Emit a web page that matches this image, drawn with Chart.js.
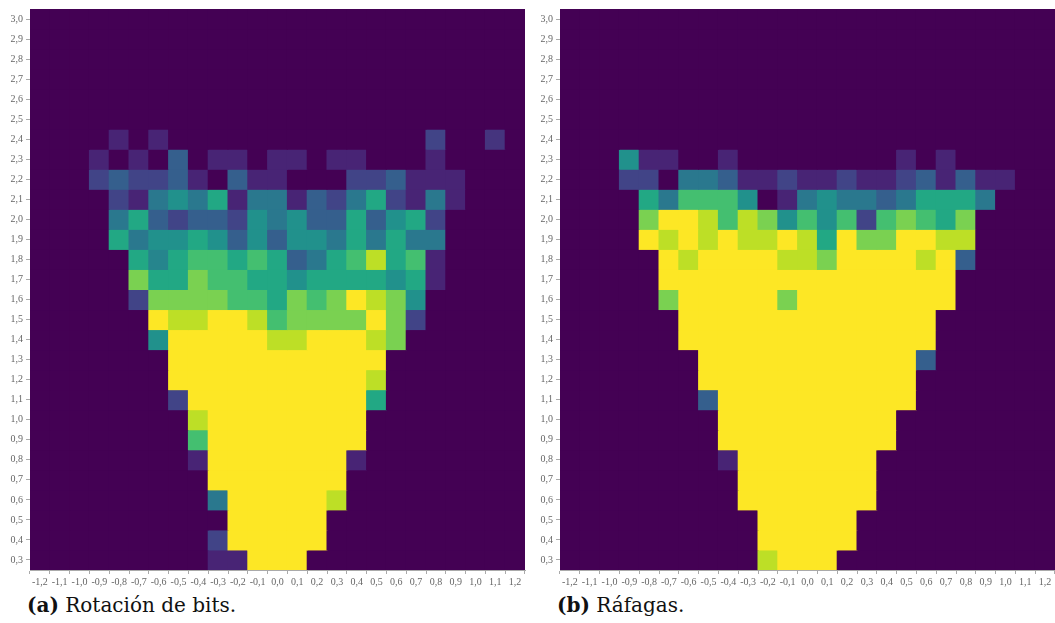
<!DOCTYPE html>
<html>
<head>
<meta charset="utf-8">
<script src="https://cdn.jsdelivr.net/npm/chart.js@4/dist/chart.umd.min.js"></script>
<style>
  html, body { margin: 0; padding: 0; background: #ffffff; }
  body { width: 1055px; height: 623px; position: relative; overflow: hidden; }
  .panel { position: absolute; top: 0; height: 590px; }
  .caption { position: absolute; top: 593px; font-family: "DejaVu Serif", "Liberation Serif", serif; font-size: 20px; color: #111; white-space: nowrap; }
  .caption b { font-weight: bold; }
</style>
</head>
<body>
<div class="panel" style="left:0; width:528px;"><canvas id="chartA"></canvas></div>
<div class="panel" style="left:530px; width:525px;"><canvas id="chartB"></canvas></div>
<div class="caption" style="left:27px;"><b>(a)</b> Rotación de bits.</div>
<div class="caption" style="left:557px;"><b>(b)</b> Ráfagas.</div>
<script>
// Column categories (x) and row centres (y), both in steps of 0.1
const xValues = [-1.2, -1.1, -1.0, -0.9, -0.8, -0.7, -0.6, -0.5, -0.4, -0.3, -0.2, -0.1,
                 0.0, 0.1, 0.2, 0.3, 0.4, 0.5, 0.6, 0.7, 0.8, 0.9, 1.0, 1.1, 1.2];
const yValues = [3.0, 2.9, 2.8, 2.7, 2.6, 2.5, 2.4, 2.3, 2.2, 2.1, 2.0, 1.9, 1.8, 1.7,
                 1.6, 1.5, 1.4, 1.3, 1.2, 1.1, 1.0, 0.9, 0.8, 0.7, 0.6, 0.5, 0.4, 0.3];
const xTickLabels = xValues.map(v => v.toFixed(1).replace('.', ','));
const yTickLabels = yValues.map(v => v.toFixed(1).replace('.', ','));

// Density level per cell (0 = empty … 10 = maximum), one row per yValues entry
const rotacionBits = [
  [0,0,0,0,0,0,0,0,0,0,0,0,0,0,0,0,0,0,0,0,0,0,0,0,0],
  [0,0,0,0,0,0,0,0,0,0,0,0,0,0,0,0,0,0,0,0,0,0,0,0,0],
  [0,0,0,0,0,0,0,0,0,0,0,0,0,0,0,0,0,0,0,0,0,0,0,0,0],
  [0,0,0,0,0,0,0,0,0,0,0,0,0,0,0,0,0,0,0,0,0,0,0,0,0],
  [0,0,0,0,0,0,0,0,0,0,0,0,0,0,0,0,0,0,0,0,0,0,0,0,0],
  [0,0,0,0,0,0,0,0,0,0,0,0,0,0,0,0,0,0,0,0,0,0,0,0,0],
  [0,0,0,0,1,0,1,0,0,0,0,0,0,0,0,0,0,0,0,0,2,0,0,1.5,0],
  [0,0,0,1,0,1,0,3,0,1,1,0,1,1,0,1,1,0,0,0,1,0,0,0,0],
  [0,0,0,2,3,2,2,3,1,0,3,1,1,0,0,0,2,2,3,1,1,1,0,0,0],
  [0,0,0,0,2,1,4,5,4,6,1,4,4,1,3,2,4,6,2,1,4,1,0,0,0],
  [0,0,0,0,4,6,3,2,3,3,2,5,4,5,3,3,6,3,5,6,2,0,0,0,0],
  [0,0,0,0,6,4,5,5,6,5,3,5,3,5,5,4,6,4,6,4,4,0,0,0,0],
  [0,0,0,0,0,6,4.5,6,7,7,6,7,6,3,4,6,7,9,6,7,1,0,0,0,0],
  [0,0,0,0,0,8,6,6,8,7,7,6,6,5,6,6,6,6,5,6,1,0,0,0,0],
  [0,0,0,0,0,2,8,8,8,8,7,7,6,8,7,8,10,9,8,5,0,0,0,0,0],
  [0,0,0,0,0,0,10,9,9,10,10,9,7,8,8,8,8,10,8,2,0,0,0,0,0],
  [0,0,0,0,0,0,5,10,10,10,10,10,9,9,10,10,10,9,8,0,0,0,0,0,0],
  [0,0,0,0,0,0,0,10,10,10,10,10,10,10,10,10,10,10,0,0,0,0,0,0,0],
  [0,0,0,0,0,0,0,10,10,10,10,10,10,10,10,10,10,9,0,0,0,0,0,0,0],
  [0,0,0,0,0,0,0,2,10,10,10,10,10,10,10,10,10,6,0,0,0,0,0,0,0],
  [0,0,0,0,0,0,0,0,9,10,10,10,10,10,10,10,10,0,0,0,0,0,0,0,0],
  [0,0,0,0,0,0,0,0,7,10,10,10,10,10,10,10,10,0,0,0,0,0,0,0,0],
  [0,0,0,0,0,0,0,0,1,10,10,10,10,10,10,10,1,0,0,0,0,0,0,0,0],
  [0,0,0,0,0,0,0,0,0,10,10,10,10,10,10,10,0,0,0,0,0,0,0,0,0],
  [0,0,0,0,0,0,0,0,0,4,10,10,10,10,10,9,0,0,0,0,0,0,0,0,0],
  [0,0,0,0,0,0,0,0,0,0,10,10,10,10,10,0,0,0,0,0,0,0,0,0,0],
  [0,0,0,0,0,0,0,0,0,2,10,10,10,10,10,0,0,0,0,0,0,0,0,0,0],
  [0,0,0,0,0,0,0,0,0,1,1,10,10,10,0,0,0,0,0,0,0,0,0,0,0]
];

const rafagas = [
  [0,0,0,0,0,0,0,0,0,0,0,0,0,0,0,0,0,0,0,0,0,0,0,0,0],
  [0,0,0,0,0,0,0,0,0,0,0,0,0,0,0,0,0,0,0,0,0,0,0,0,0],
  [0,0,0,0,0,0,0,0,0,0,0,0,0,0,0,0,0,0,0,0,0,0,0,0,0],
  [0,0,0,0,0,0,0,0,0,0,0,0,0,0,0,0,0,0,0,0,0,0,0,0,0],
  [0,0,0,0,0,0,0,0,0,0,0,0,0,0,0,0,0,0,0,0,0,0,0,0,0],
  [0,0,0,0,0,0,0,0,0,0,0,0,0,0,0,0,0,0,0,0,0,0,0,0,0],
  [0,0,0,0,0,0,0,0,0,0,0,0,0,0,0,0,0,0,0,0,0,0,0,0,0],
  [0,0,0,5,1,1,0,0,1,0,0,0,0,0,0,0,0,1,0,1,0,0,0,0,0],
  [0,0,0,2,2,0,4,4,3,1,1,2,1,1,2,1,1,2,3,1,3,1,1,0,0],
  [0,0,0,0,6,4,7,7,7,5,0,1,4,5,4,4,3,4,6,6,6,4,0,0,0],
  [0,0,0,0,8,10,10,9,7,9,8,5,7,5,7,2,7,8,7,6,8,0,0,0,0],
  [0,0,0,0,10,9,10,9,10,9,9,10,9,6,10,8,8,10,10,9,9,0,0,0,0],
  [0,0,0,0,0,10,9,10,10,10,10,9,9,8,10,10,10,10,9,10,3,0,0,0,0],
  [0,0,0,0,0,10,10,10,10,10,10,10,10,10,10,10,10,10,10,10,0,0,0,0,0],
  [0,0,0,0,0,8,10,10,10,10,10,8,10,10,10,10,10,10,10,10,0,0,0,0,0],
  [0,0,0,0,0,0,10,10,10,10,10,10,10,10,10,10,10,10,10,0,0,0,0,0,0],
  [0,0,0,0,0,0,10,10,10,10,10,10,10,10,10,10,10,10,10,0,0,0,0,0,0],
  [0,0,0,0,0,0,0,10,10,10,10,10,10,10,10,10,10,10,3,0,0,0,0,0,0],
  [0,0,0,0,0,0,0,10,10,10,10,10,10,10,10,10,10,10,0,0,0,0,0,0,0],
  [0,0,0,0,0,0,0,3,10,10,10,10,10,10,10,10,10,10,0,0,0,0,0,0,0],
  [0,0,0,0,0,0,0,0,10,10,10,10,10,10,10,10,10,0,0,0,0,0,0,0,0],
  [0,0,0,0,0,0,0,0,10,10,10,10,10,10,10,10,10,0,0,0,0,0,0,0,0],
  [0,0,0,0,0,0,0,0,1,10,10,10,10,10,10,10,0,0,0,0,0,0,0,0,0],
  [0,0,0,0,0,0,0,0,0,10,10,10,10,10,10,10,0,0,0,0,0,0,0,0,0],
  [0,0,0,0,0,0,0,0,0,10,10,10,10,10,10,10,0,0,0,0,0,0,0,0,0],
  [0,0,0,0,0,0,0,0,0,0,10,10,10,10,10,0,0,0,0,0,0,0,0,0,0],
  [0,0,0,0,0,0,0,0,0,0,10,10,10,10,10,0,0,0,0,0,0,0,0,0,0],
  [0,0,0,0,0,0,0,0,0,0,9,10,10,10,0,0,0,0,0,0,0,0,0,0,0]
];

// Viridis colour ramp, sampled every tenth
const viridisStops = ['#440154','#482475','#414487','#355f8d','#2a788e','#21918c',
                      '#22a884','#44bf70','#7ad151','#bddf26','#fde725'];
function hexToRgb(h) {
  return [parseInt(h.slice(1,3),16), parseInt(h.slice(3,5),16), parseInt(h.slice(5,7),16)];
}
function viridis(level) {
  const t = Math.max(0, Math.min(10, level));
  const i = Math.min(9, Math.floor(t));
  const f = t - i;
  const a = hexToRgb(viridisStops[i]), b = hexToRgb(viridisStops[i + 1]);
  const c = a.map((v, k) => Math.round(v + (b[k] - v) * f));
  return `rgb(${c[0]},${c[1]},${c[2]})`;
}

const tickFont = { family: '"Liberation Serif", "DejaVu Serif", serif', size: 10 };
const tickColor = '#666666';
const axisColor = '#aaaaaa';

// Fill the plot area with the empty-cell colour so no seams show between cells
const areaFill = {
  id: 'areaFill',
  beforeDatasetsDraw(chart) {
    const { ctx, chartArea: a } = chart;
    ctx.save();
    ctx.fillStyle = viridis(0);
    ctx.fillRect(a.left, a.top, a.right - a.left, a.bottom - a.top);
    ctx.restore();
  }
};

function buildHeatmap(canvasId, grid, rightPad) {
  // One floating-bar dataset per row: each bar spans its 0.1-high cell
  const datasets = yValues.map((yv, r) => ({
    data: xTickLabels.map(() => [yv - 0.05, yv + 0.05]),
    backgroundColor: grid[r].map(viridis),
    borderWidth: 0,
    inflateAmount: 0.5,
    barPercentage: 1,
    categoryPercentage: 1,
    grouped: false
  }));

  return new Chart(document.getElementById(canvasId), {
    type: 'bar',
    data: { labels: xTickLabels, datasets },
    plugins: [areaFill],
    options: {
      responsive: true,
      maintainAspectRatio: false,
      animation: false,
      events: [],
      layout: { padding: { top: 7, right: rightPad, left: 0, bottom: 0 } },
      plugins: { legend: { display: false }, tooltip: { enabled: false } },
      scales: {
        x: {
          type: 'category',
          offset: true,
          grid: { display: true, drawOnChartArea: false, drawTicks: true, tickLength: 4, color: axisColor },
          border: { display: true, color: axisColor },
          ticks: { font: tickFont, color: tickColor, autoSkip: false, maxRotation: 0, minRotation: 0, padding: 2 },
          afterFit: s => { s.height = 20; }
        },
        y: {
          type: 'linear',
          min: 0.25,
          max: 3.05,
          grid: { display: true, drawOnChartArea: false, drawTicks: true, tickLength: 4, color: axisColor },
          border: { display: true, color: axisColor },
          afterBuildTicks: s => { s.ticks = yValues.slice().reverse().map(v => ({ value: v })); },
          ticks: {
            font: tickFont, color: tickColor, padding: 3,
            callback: v => yTickLabels[yValues.indexOf(Math.round(v * 10) / 10)]
          },
          afterFit: s => { s.width = 30; }
        }
      }
    }
  });
}

buildHeatmap('chartA', rotacionBits, 3);
buildHeatmap('chartB', rafagas, 0);
</script>
</body>
</html>
